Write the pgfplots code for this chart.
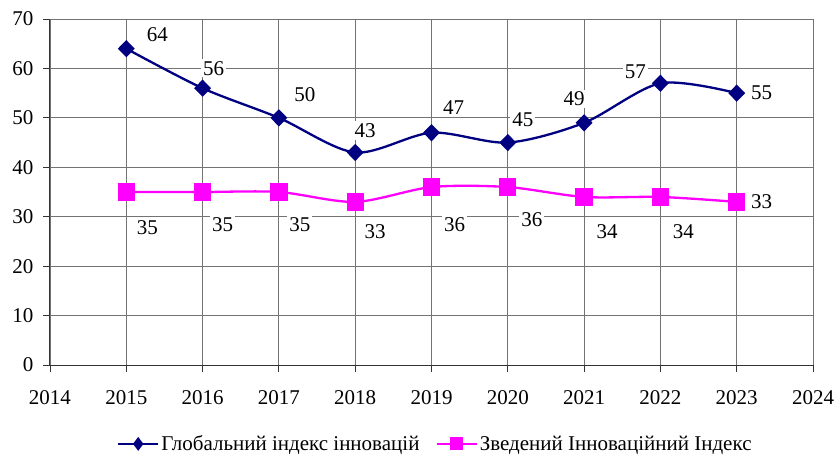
\documentclass[border=0pt]{standalone}
\usepackage{pgfplots}
\pgfplotsset{compat=1.18}
\usepackage{fontspec}
\setmainfont{Liberation Serif}
\definecolor{navyb}{HTML}{000080}
\definecolor{magp}{HTML}{FF00FF}
\newcommand{\fs}{\fontsize{21}{24}\selectfont}
\begin{document}
\begin{tikzpicture}[x=1pt,y=1pt]
\path[use as bounding box] (-50,-91) rectangle (790,365);
\begin{axis}[
  at={(0,0)}, anchor=south west,
  width=763pt, height=346pt, scale only axis,
  xmin=2014, xmax=2024, ymin=0, ymax=70,
  xtick={2014,2015,...,2024}, ytick={0,10,...,70},
  grid=major,
  major grid style={draw=black!55, line width=0.8pt},
  axis line style={draw=black!80, line width=1pt},
  tick style={draw=black!80, line width=0.8pt},
  tick align=outside, major tick length=7pt,
  axis x line*=bottom, axis y line*=left,
  /pgf/number format/assume math mode=true,
  xticklabel style={/pgf/number format/1000 sep={}, font=\fs, yshift=-15pt},
  yticklabel style={font=\fs, xshift=-6pt},
  legend style={at={(0.505,-0.228)}, anchor=center, draw=none, fill=none,
    legend columns=2, font=\fs,
    /tikz/every even column/.append style={column sep=14pt}},
  legend image code/.code={\draw[#1] (0pt,0pt) -- (40pt,0pt);
     \draw[#1, mark options={scale=0.72}] plot coordinates {(20pt,0pt)};},
]
\addplot[navyb, line width=2.3pt, smooth, tension=0.5, mark=diamond*, mark size=7pt, mark options={xscale=1.3, solid}]
 coordinates {(2015,64)(2016,56)(2017,50)(2018,43)(2019,47)(2020,45)(2021,49)(2022,57)(2023,55)};
\addlegendentry{Глобальний індекс інновацій}
\addplot[magp, line width=2.3pt, smooth, tension=0.5, mark=square*, mark size=7.5pt, mark options={solid}]
 coordinates {(2015,35)(2016,35)(2017,35)(2018,33)(2019,36)(2020,36)(2021,34)(2022,34)(2023,33)};
\addlegendentry{Зведений Інноваційний Індекс}
\begin{scope}[every node/.style={fill=white, inner sep=2pt, font=\fs}]
\node at (axis cs:2015,64) [xshift=31pt, yshift=14pt] {64};
\node at (axis cs:2016,56) [xshift=11pt, yshift=20pt] {56};
\node at (axis cs:2017,50) [xshift=26pt, yshift=23pt] {50};
\node at (axis cs:2018,43) [xshift=10pt, yshift=22pt] {43};
\node at (axis cs:2019,47) [xshift=22pt, yshift=25pt] {47};
\node at (axis cs:2020,45) [xshift=15pt, yshift=23pt] {45};
\node at (axis cs:2021,49) [xshift=-10pt, yshift=24pt] {49};
\node at (axis cs:2022,57) [xshift=-25pt, yshift=12pt] {57};
\node at (axis cs:2023,55) [xshift=25pt, yshift=0pt] {55};
\node at (axis cs:2015,35) [xshift=21pt, yshift=-36pt] {35};
\node at (axis cs:2016,35) [xshift=20pt, yshift=-33pt] {35};
\node at (axis cs:2017,35) [xshift=21pt, yshift=-33pt] {35};
\node at (axis cs:2018,33) [xshift=20pt, yshift=-30pt] {33};
\node at (axis cs:2019,36) [xshift=23pt, yshift=-38pt] {36};
\node at (axis cs:2020,36) [xshift=24pt, yshift=-33pt] {36};
\node at (axis cs:2021,34) [xshift=23pt, yshift=-35pt] {34};
\node at (axis cs:2022,34) [xshift=23pt, yshift=-35pt] {34};
\node at (axis cs:2023,33) [xshift=25pt, yshift=0pt] {33};
\end{scope}
\end{axis}
\end{tikzpicture}
\end{document}
